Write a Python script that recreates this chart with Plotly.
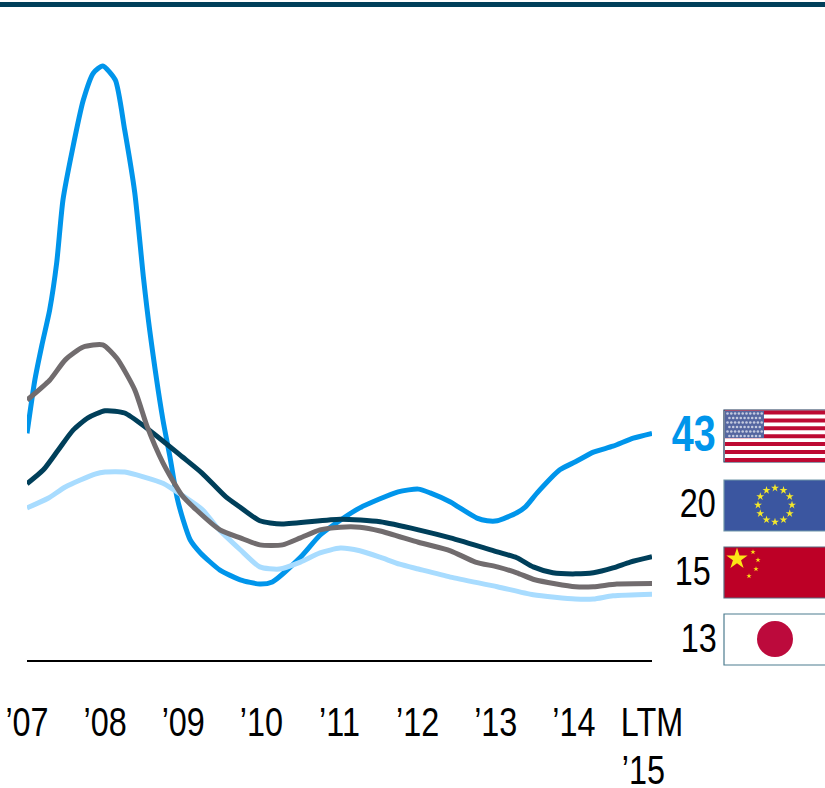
import math
import plotly.graph_objects as go

# Series values, by year position (2015 is the LTM point)
us_years = [2007.0, 2007.10, 2007.19, 2007.29, 2007.38, 2007.46, 2007.58, 2007.72, 2007.85, 2007.97,
            2008.13, 2008.25, 2008.38, 2008.49, 2008.57, 2008.74, 2008.83, 2008.92, 2009.0, 2009.09,
            2009.22, 2009.47, 2009.73, 2009.98, 2010.14, 2010.50, 2010.75, 2011.01, 2011.26, 2011.75,
            2012.01, 2012.16, 2012.42, 2012.52, 2012.76, 2012.89, 2013.02, 2013.27, 2013.38, 2013.53,
            2013.82, 2014.02, 2014.25, 2014.50, 2014.76, 2015.0]
us_values = [43.0, 52.9, 59.4, 66.0, 74.8, 86.5, 95.8, 105.1, 110.2, 111.5,
             108.9, 99.6, 87.8, 72.1, 62.3, 45.5, 38.6, 31.1, 26.8, 23.1,
             20.7, 17.5, 15.7, 14.9, 15.3, 19.9, 24.0, 26.8, 29.1, 32.1,
             32.6, 31.9, 30.2, 29.3, 27.2, 26.7, 26.7, 28.2, 29.3, 31.9,
             36.2, 37.7, 39.5, 40.6, 42.1, 43.0]

japan_years = [2007.0, 2007.27, 2007.49, 2007.87, 2008.0, 2008.25, 2008.49, 2008.74, 2008.98, 2009.25,
               2009.43, 2009.73, 2009.98, 2010.23, 2010.50, 2010.75, 2011.01, 2011.26, 2011.52, 2011.77,
               2012.01, 2012.42, 2013.02, 2013.48, 2014.02, 2014.25, 2014.50, 2015.0]
japan_values = [29.1, 30.9, 33.0, 35.4, 35.8, 35.8, 34.9, 33.7, 31.5, 28.7,
                25.5, 21.3, 18.1, 17.7, 19.0, 20.7, 21.6, 21.1, 19.9, 18.6,
                17.7, 16.2, 14.4, 12.9, 12.1, 12.1, 12.7, 13.0]

eu_years = [2007.0, 2007.21, 2007.40, 2007.59, 2007.78, 2008.0, 2008.25, 2008.53, 2008.99, 2009.24,
            2009.55, 2009.72, 2009.98, 2010.26, 2011.01, 2011.52, 2012.01, 2012.42, 2013.02, 2013.27,
            2013.48, 2013.73, 2014.02, 2014.25, 2014.50, 2014.72, 2015.0]
eu_values = [33.6, 36.2, 39.9, 43.6, 45.9, 47.2, 46.8, 44.0, 38.6, 35.6,
             31.1, 29.3, 26.7, 26.1, 27.0, 26.5, 25.0, 23.5, 20.9, 19.8,
             18.1, 17.0, 16.8, 17.0, 17.9, 19.0, 20.0]

china_years = [2007.0, 2007.29, 2007.49, 2007.72, 2007.97, 2008.15, 2008.38, 2008.54, 2008.74, 2008.98,
               2009.17, 2009.47, 2009.73, 2009.98, 2010.27, 2010.50, 2010.75, 2011.01, 2011.26, 2011.52,
               2012.01, 2012.42, 2012.74, 2013.02, 2013.27, 2013.50, 2014.02, 2014.25, 2014.55, 2015.0]
china_values = [49.2, 52.9, 56.7, 59.1, 59.5, 57.0, 51.1, 44.2, 37.5, 31.5,
                28.7, 25.0, 23.5, 22.2, 22.2, 23.5, 25.0, 25.5, 25.5, 24.8,
                22.7, 21.1, 19.0, 18.1, 17.0, 15.7, 14.4, 14.4, 14.9, 15.0]

tick_years = [2007, 2008, 2009, 2010, 2011, 2012, 2013, 2014, 2015]
tick_labels = ["’07", "’08", "’09", "’10", "’11", "’12", "’13", "’14", "LTM"]
end_labels = ["43", "20", "15", "13"]

BLUE, LIGHT, DARK, GREY = "#0095EB", "#A8DCFF", "#003F5A", "#716C6E"
W, H = 825, 788
FONT = "Liberation Sans, Arial, sans-serif"
NARROW = 0.79  # horizontal squeeze of the Arial-style labels
LABEL_SIZE = 41

fig = go.Figure()

# Lines, back to front
for xs, ys, color in [(us_years, us_values, BLUE), (japan_years, japan_values, LIGHT),
                      (eu_years, eu_values, DARK), (china_years, china_values, GREY)]:
    fig.add_trace(go.Scatter(x=xs, y=ys, mode="lines", line=dict(color=color, width=5, shape="spline", smoothing=0.6),
                             hoverinfo="skip", showlegend=False, cliponaxis=False))


def rect(x0, y0, x1, y1, fill, line=None):
    fig.add_shape(type="rect", xref="x2", yref="y2", x0=x0, y0=y0, x1=x1, y1=y1, layer="below",
                  fillcolor=fill, line=dict(color=line, width=1.2) if line else dict(width=0))


def stars(xs, ys, size, color, symbol="star"):
    fig.add_trace(go.Scatter(x=xs, y=ys, xaxis="x2", yaxis="y2", mode="markers", showlegend=False,
                             hoverinfo="skip", marker=dict(symbol=symbol, size=size, color=color,
                                                           line=dict(width=0))))


# Rule across the top of the panel
rect(0, 2, W, 7, DARK)

# United States flag
rect(724, 410, W + 2, 462, "#FFFFFF", "#1D3557")
for i in range(7):
    rect(725, 410.5 + i * 7.9, W + 2, 414.5 + i * 7.9, "#BD0A33")
rect(725, 411, 764, 438, "#5566A0")
stars([727.5 + c * 3.8 + (r % 2) * 1.9 for r in range(6) for c in range(10 - r % 2)],
      [413.5 + r * 4.5 for r in range(6) for c in range(10 - r % 2)],
      2.6, "#C4CADF", "circle")

# European Union flag
rect(724, 480, W + 2, 531, "#3B56A0", "#6F95A8")
stars([775 + 17 * math.sin(k * math.pi / 6) for k in range(12)],
      [505 - 17 * math.cos(k * math.pi / 6) for k in range(12)], 6, "#F4E82A")

# China flag
rect(724, 547, W + 2, 598, "#BD0026", "#5A6B80")
stars([737], [559], 16, "#FBE516")
stars([753, 758, 756, 749], [552, 560, 569, 576], 4, "#FBE516")

# Japan flag
rect(724, 614, W + 2, 665, "#FFFFFF", "#4D7C8F")
fig.add_shape(type="circle", xref="x2", yref="y2", x0=757, y0=621, x1=793, y1=657, layer="below",
              fillcolor="#BC0A3C", line=dict(width=0))

# Closing values beside the flags; the squeeze pulls each text in from both sides
label_styles = [(718, 434, 50, BLUE, 700), (718, 503, LABEL_SIZE, "#000000", 400),
                (713, 571, LABEL_SIZE, "#000000", 400), (719, 637.5, LABEL_SIZE, "#000000", 400)]
for text, (x, y, size, color, weight) in zip(end_labels, label_styles):
    fig.add_annotation(xref="x2", yref="y2", x=x, y=y, xanchor="right", yanchor="middle", showarrow=False,
                       text=text, font=dict(size=size, color=color, family=FONT, weight=weight),
                       xshift=(1 - NARROW) * size * 0.556)

# Second line of the last axis label, flush left under LTM
fig.add_annotation(xref="x2", yref="y2", x=619, y=770, xanchor="left", yanchor="middle", showarrow=False,
                   text="’15", font=dict(size=LABEL_SIZE, color="#000000", family=FONT), xshift=-5)

fig.update_layout(
    width=W, height=H, margin=dict(l=0, r=0, t=0, b=0, autoexpand=False),
    paper_bgcolor="white", plot_bgcolor="rgba(0,0,0,0)",
    font=dict(family=FONT, color="#000000"),
    xaxis=dict(domain=[27 / W, 652 / W], range=[2007, 2015], tickmode="array", tickvals=tick_years,
               ticktext=tick_labels, ticks="", showgrid=False, zeroline=False, showline=True,
               linecolor="#000000", linewidth=2, tickfont=dict(size=LABEL_SIZE, family=FONT, color="#000000"),
               ticklabelstandoff=25, ticklabeloverflow="allow", anchor="y", automargin=False),
    yaxis=dict(domain=[(H - 660) / H, 1], range=[0.74, 123.8], visible=False, anchor="x", automargin=False),
    xaxis2=dict(domain=[0, 1], range=[0, W], visible=False, anchor="y2", automargin=False),
    yaxis2=dict(domain=[0, 1], range=[H, 0], visible=False, anchor="x2", automargin=False),
)

# The labels use a condensed cut of the typeface, applied once the page has drawn them
condense = """
var gd = document.getElementById('{plot_id}');
function condense() {
  gd.querySelectorAll('.xtick text, .annotation-text').forEach(function (t) {
    if (t.getAttribute('lengthAdjust')) return;
    t.setAttribute('textLength', t.getComputedTextLength() * %s);
    t.setAttribute('lengthAdjust', 'spacingAndGlyphs');
  });
}
condense();
gd.on('plotly_afterplot', condense);
""" % NARROW

fig.write_html("out.html", post_script=condense)
